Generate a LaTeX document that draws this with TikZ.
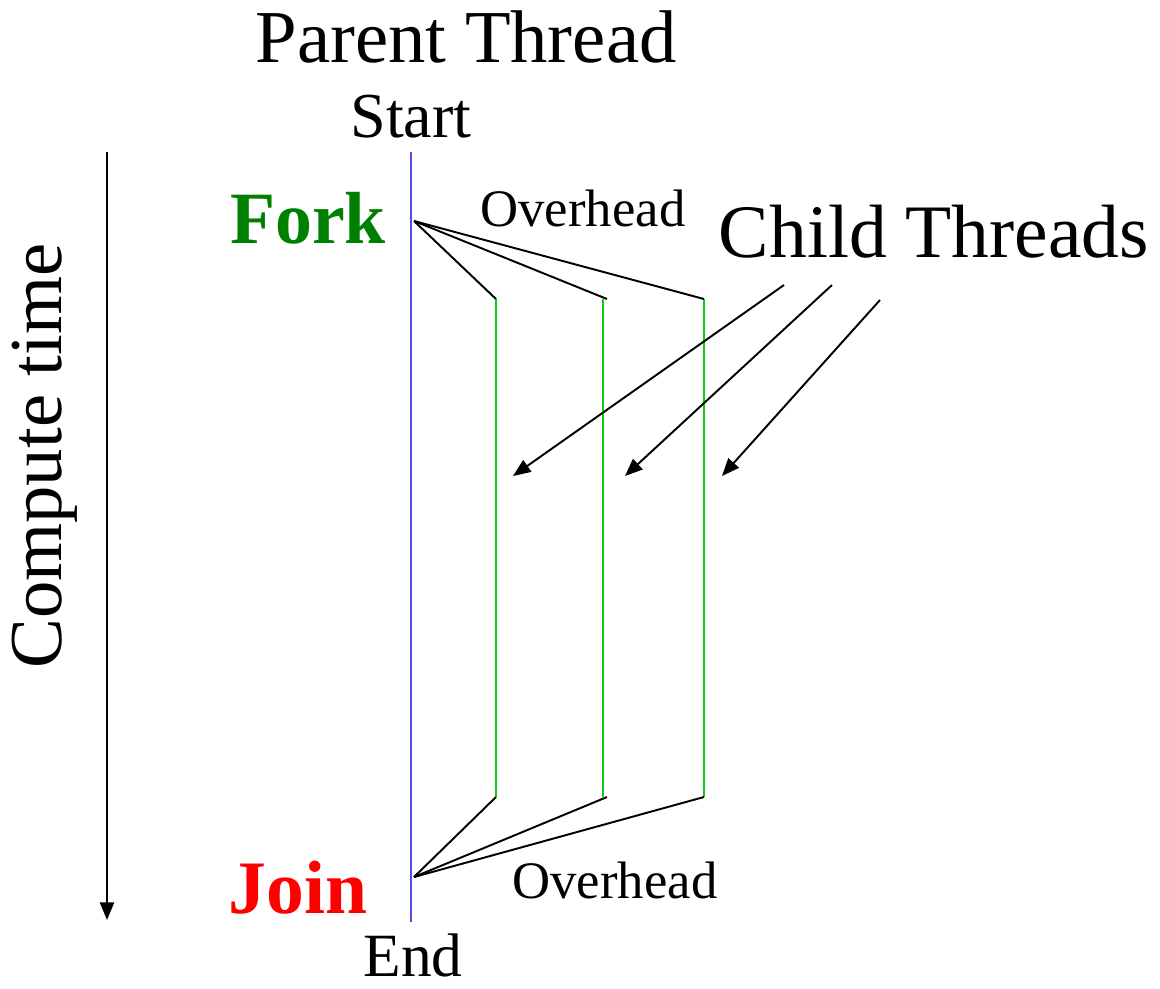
\documentclass[tikz,border=0pt]{standalone}
\usepackage{fontspec}
\setmainfont{Liberation Serif}
\usetikzlibrary{arrows.meta, positioning}
\definecolor{forkgreen}{RGB}{0,128,0}
\definecolor{threadgreen}{RGB}{20,200,20}
\definecolor{parentblue}{RGB}{80,80,220}
\newcommand{\fs}[1]{\fontsize{#1}{#1}\selectfont}
\tikzset{%
	parent line/.style={draw=parentblue, line width=1.1pt},
	child line/.style={draw=threadgreen, line width=1.1pt},
	overhead line/.style={draw=black, line width=1.1pt},
	pointer/.style={-{Triangle[length=10pt,width=8pt]}, line width=1.1pt},
}

\begin{document}
\begin{tikzpicture}[x=0.02cm, y=-0.02cm, inner sep=0pt]
	\useasboundingbox (0,0) rectangle (1160,988);
	
	% parent thread
	\coordinate (start) at (411,152);
	\coordinate (end) at (411,922);
	\draw[parent line] (start) -- (end);
	\coordinate (fork) at (414,221);
	\coordinate (join) at (414,877);
	
	\node(ptitle) at (466,37) {\fs{42.5}Parent Thread};
	\node(lstart) at (411,117) {\fs{36.5}Start};
	\node(lend) at (413,955) {\fs{35}End};
	\node(lfork) at (308,218) {\fs{42}\bfseries\color{forkgreen}Fork};
	\node(ljoin) at (298,888) {\fs{43}\bfseries\color{red}Join};
	
	% child threads
	\coordinate (c1t) at (496,299);
	\coordinate (c1b) at (496,797);
	\coordinate (c2t) at (603,299);
	\coordinate (c2b) at (603,797);
	\coordinate (c3t) at (704,299);
	\coordinate (c3b) at (704,797);
	\coordinate (o2t) at (607,299);
	\coordinate (o2b) at (607,797);
	
	\draw[child line] (c1t) -- (c1b);
	\draw[child line] (c2t) -- (c2b);
	\draw[child line] (c3t) -- (c3b);
	
	\draw[overhead line] (fork) -- (c1t);
	\draw[overhead line] (fork) -- (o2t);
	\draw[overhead line] (fork) -- (c3t);
	
	\draw[overhead line] (join) -- (c1b);
	\draw[overhead line] (join) -- (o2b);
	\draw[overhead line] (join) -- (c3b);
	
	\node(ohtop) at (583,208) {\fs{30}Overhead};
	\node(ohbot) at (615,880) {\fs{30}Overhead};
	
	% labels for children
	\node(ctitle) at (934,232) {\fs{43}Child Threads};
	\coordinate (a1) at (784,285);
	\coordinate (a2) at (832,285);
	\coordinate (a3) at (880,300);
	\coordinate (h1) at (513,476);
	\coordinate (h2) at (625,476);
	\coordinate (h3) at (722,476);
	\draw[pointer] (a1) -- (h1);
	\draw[pointer] (a2) -- (h2);
	\draw[pointer] (a3) -- (h3);
	
	% time axis
	\coordinate (t0) at (107,152);
	\coordinate (t1) at (107,920);
	\draw[pointer] (t0) -- (t1);
	\node[rotate=90](ltime) at (45,456) {\fs{42.5}Compute time};
\end{tikzpicture}
\end{document}
